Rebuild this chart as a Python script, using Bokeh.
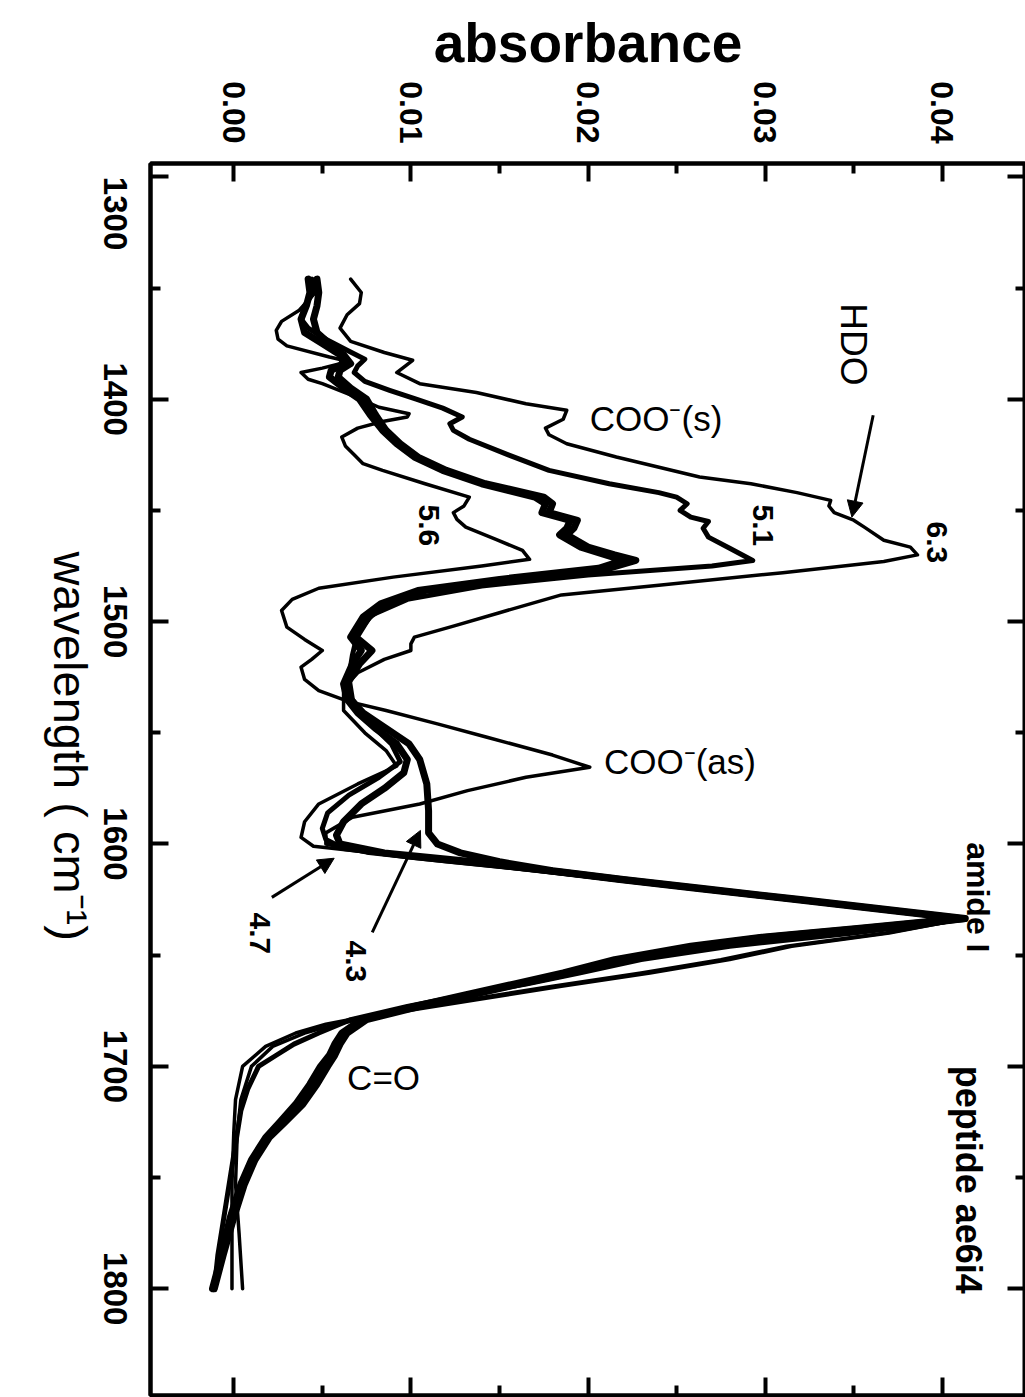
import math
from bokeh.plotting import figure
from bokeh.layouts import row
from bokeh.models import (Range1d, LinearAxis, FixedTicker, PrintfTickFormatter,
                          CustomJSTickFormatter, ColumnDataSource, Arrow, NormalHead)
from bokeh.core.properties import value
from bokeh.embed import file_html
from bokeh.resources import INLINE

FONT = "Liberation Sans"

# axis ticks
wn_ticks = [1300, 1400, 1500, 1600, 1700, 1800]
wn_minor = [1350, 1450, 1550, 1650, 1750]
abs_ticks = [0.00, 0.01, 0.02, 0.03, 0.04]
abs_minor = [0.005, 0.015, 0.025, 0.035]
wn_tick_labels = ["1300", "1400", "1500", "1600", "1700", "1800"]
# the first label sits at the frame's top edge, so it runs downward from its tick
wn_label_align = ["left", "center", "center", "center", "center", "center"]

# spectra: wavenumber (cm-1) and absorbance, one pair per pD
wn_63 = [1346, 1352, 1357, 1362, 1368, 1374, 1379, 1382.5, 1385, 1388, 1393, 1397, 1402, 1405,
         1409, 1413, 1416, 1420, 1426, 1435, 1438, 1442, 1445.5, 1448, 1451, 1454.4, 1457.5,
         1463.4, 1466.5, 1470, 1473, 1478, 1483.7, 1488, 1496, 1502, 1507, 1510, 1513, 1517,
         1523, 1530, 1540, 1550, 1558, 1565, 1573, 1582, 1590, 1597, 1601, 1605, 1610, 1615,
         1620, 1625, 1630, 1634, 1640, 1646, 1652, 1658, 1664, 1670, 1676, 1681, 1685, 1691,
         1700, 1715, 1730, 1753, 1775, 1800]
ab_63 = [0.0066, 0.0072, 0.0071, 0.0064, 0.0060, 0.0066, 0.0085, 0.0101, 0.0097, 0.0092, 0.0105,
         0.0137, 0.0165, 0.0188, 0.0186, 0.0176, 0.0178, 0.0188, 0.0216, 0.0263, 0.0292, 0.0318,
         0.0337, 0.0336, 0.0339, 0.0350, 0.0356, 0.0367, 0.0382, 0.0386, 0.0367, 0.0310, 0.0240,
         0.0185, 0.0150, 0.0124, 0.0102, 0.0100, 0.0100, 0.0085, 0.0070, 0.0062, 0.0062, 0.0074,
         0.0086, 0.0092, 0.0070, 0.0048, 0.0040, 0.0038, 0.0045, 0.0090, 0.0150, 0.0205, 0.0260,
         0.0315, 0.0370, 0.0410, 0.0370, 0.0315, 0.0280, 0.0235, 0.0185, 0.0137, 0.0090, 0.0058,
         0.0040, 0.0022, 0.0010, 0.0004, 0.0002, 0.0001, 0.0003, 0.0005]

wn_56 = [1346, 1352, 1360, 1365, 1369, 1373, 1376, 1381, 1383, 1386, 1388, 1391, 1393, 1398,
         1403.6, 1406.5, 1408, 1410, 1413, 1417, 1421, 1425, 1429, 1432, 1438, 1444, 1448, 1451,
         1454, 1457.5, 1463, 1468, 1472, 1475, 1480, 1485, 1490, 1495, 1502.5, 1508, 1513, 1517,
         1520.5, 1526, 1531, 1536, 1540, 1546, 1552, 1560, 1565.5, 1570, 1576, 1582, 1588, 1595,
         1600, 1604, 1608, 1612, 1616, 1620, 1625, 1630, 1634, 1640, 1646, 1652, 1658, 1664,
         1670, 1676, 1681, 1685, 1691, 1700, 1715, 1730, 1753, 1775, 1800]
ab_56 = [0.0045, 0.0046, 0.0037, 0.0027, 0.0024, 0.0025, 0.0030, 0.0054, 0.0065, 0.0050, 0.0038,
         0.0042, 0.0050, 0.0066, 0.0082, 0.0099, 0.0098, 0.0084, 0.0070, 0.0061, 0.0063, 0.0068,
         0.0073, 0.0084, 0.0108, 0.0133, 0.0130, 0.0124, 0.0126, 0.0131, 0.0148, 0.0163, 0.0167,
         0.0140, 0.0090, 0.0048, 0.0033, 0.0027, 0.0030, 0.0040, 0.0050, 0.0044, 0.0038, 0.0040,
         0.0048, 0.0065, 0.0086, 0.0115, 0.0143, 0.0180, 0.0201, 0.0165, 0.0132, 0.0105, 0.0067,
         0.0052, 0.0052, 0.0075, 0.0120, 0.0170, 0.0213, 0.0258, 0.0312, 0.0368, 0.0411, 0.0368,
         0.0312, 0.0275, 0.0230, 0.0180, 0.0132, 0.0085, 0.0052, 0.0035, 0.0018, 0.0005, 0.0001,
         0.0000, -0.0001, -0.0001, -0.0001]

wn_51 = [1346, 1352, 1358, 1364, 1368, 1373, 1378, 1382, 1385, 1388, 1392, 1396, 1400, 1404,
         1408, 1411, 1414, 1418, 1425, 1432, 1438, 1442, 1444, 1447, 1450, 1453, 1455, 1458, 1462,
         1467, 1472.5, 1475, 1479, 1484, 1490, 1497, 1505, 1515, 1525, 1535, 1545, 1555, 1563,
         1570, 1578, 1586, 1593, 1598, 1602, 1606, 1610, 1615, 1620, 1625, 1630, 1634, 1640,
         1646, 1652, 1658, 1663, 1668, 1673, 1679, 1685, 1690, 1695, 1700, 1710, 1720, 1735,
         1750, 1770, 1785, 1800]
ab_51 = [0.0044, 0.0045, 0.0040, 0.0038, 0.0042, 0.0052, 0.0064, 0.0074, 0.0070, 0.0068, 0.0074,
         0.0088, 0.0103, 0.0118, 0.0129, 0.0122, 0.0124, 0.0133, 0.0155, 0.0178, 0.0212, 0.0240,
         0.0250, 0.0256, 0.0252, 0.0258, 0.0268, 0.0265, 0.0268, 0.0280, 0.0293, 0.0270, 0.0200,
         0.0140, 0.0098, 0.0078, 0.0070, 0.0067, 0.0065, 0.0067, 0.0076, 0.0089, 0.0094, 0.0082,
         0.0065, 0.0053, 0.0050, 0.0052, 0.0062, 0.0100, 0.0150, 0.0205, 0.0260, 0.0315, 0.0370,
         0.0413, 0.0350, 0.0280, 0.0230, 0.0195, 0.0165, 0.0130, 0.0098, 0.0066, 0.0048, 0.0034,
         0.0024, 0.0014, 0.0008, 0.0004, 0.0001, -0.0002, -0.0006, -0.0009, -0.0011]

wn_47 = [1346, 1352, 1358, 1364, 1370, 1375, 1380, 1384, 1387, 1390, 1395, 1400, 1407, 1414,
         1420, 1426, 1432, 1438, 1444, 1447, 1451, 1454.5, 1458, 1461, 1466.5, 1470, 1472.5, 1476,
         1481, 1486, 1492, 1498, 1507, 1513, 1519, 1528, 1535, 1541, 1548, 1555, 1562, 1568,
         1575, 1582, 1590, 1596, 1600, 1604, 1608, 1612, 1616, 1620, 1625, 1630, 1633.5, 1638,
         1642, 1646, 1652, 1658, 1663, 1668, 1673, 1679, 1685, 1690, 1695, 1700, 1708, 1717,
         1725, 1732, 1742, 1753, 1768, 1785, 1800]
ab_47 = [0.0042, 0.0043, 0.0041, 0.0038, 0.0040, 0.0050, 0.0060, 0.0062, 0.0055, 0.0054, 0.0062,
         0.0071, 0.0077, 0.0084, 0.0092, 0.0102, 0.0118, 0.0140, 0.0170, 0.0176, 0.0174, 0.0190,
         0.0188, 0.0184, 0.0196, 0.0210, 0.0220, 0.0206, 0.0150, 0.0104, 0.0083, 0.0073, 0.0066,
         0.0072, 0.0067, 0.0062, 0.0064, 0.0070, 0.0080, 0.0092, 0.0098, 0.0096, 0.0085, 0.0072,
         0.0062, 0.0058, 0.0060, 0.0085, 0.0135, 0.0178, 0.0218, 0.0262, 0.0317, 0.0372, 0.0410,
         0.0352, 0.0297, 0.0258, 0.0215, 0.0186, 0.0158, 0.0130, 0.0102, 0.0072, 0.0061, 0.0057,
         0.0054, 0.0049, 0.0043, 0.0035, 0.0026, 0.0018, 0.0010, 0.0004, -0.0002, -0.0007, -0.0012]

wn_43 = [1346, 1352, 1358, 1364, 1370, 1375, 1380, 1384, 1387, 1390, 1395, 1400, 1407, 1414,
         1420, 1426, 1432, 1438, 1444, 1447, 1451, 1454.5, 1458, 1461, 1466.5, 1470, 1472.5, 1476,
         1481, 1486, 1492, 1498, 1507, 1513, 1519, 1528, 1535, 1541, 1548, 1555, 1562, 1573,
         1585, 1595, 1600, 1604, 1608, 1612, 1616, 1620, 1625, 1630, 1633.5, 1638, 1642, 1646,
         1652, 1658, 1663, 1668, 1673, 1679, 1685, 1690, 1695, 1700, 1708, 1717, 1725, 1732,
         1742, 1753, 1768, 1785, 1800]
ab_43 = [0.0047, 0.0048, 0.0047, 0.0045, 0.0047, 0.0054, 0.0062, 0.0066, 0.0060, 0.0059, 0.0066,
         0.0075, 0.0080, 0.0086, 0.0094, 0.0104, 0.0120, 0.0142, 0.0175, 0.0180, 0.0178, 0.0194,
         0.0192, 0.0188, 0.0200, 0.0215, 0.0227, 0.0212, 0.0155, 0.0108, 0.0086, 0.0076, 0.0069,
         0.0078, 0.0071, 0.0064, 0.0066, 0.0073, 0.0086, 0.0099, 0.0105, 0.0109, 0.0110, 0.0110,
         0.0115, 0.0128, 0.0150, 0.0180, 0.0220, 0.0265, 0.0320, 0.0375, 0.0413, 0.0355, 0.0300,
         0.0262, 0.0218, 0.0190, 0.0161, 0.0133, 0.0105, 0.0075, 0.0064, 0.0060, 0.0057, 0.0053,
         0.0047, 0.0039, 0.0029, 0.0020, 0.0012, 0.0006, 0.0000, -0.0006, -0.0011]

# band and sample labels (absorbance, wavenumber)
rot_text = ["HDO", "6.3", "5.1", "5.6", "4.7", "4.3", "amide I", "peptide ae6i4"]
rot_x = [0.0350, 0.0397, 0.0299, 0.0110, 0.0015, 0.0069, 0.0420, 0.0415]
rot_y = [1375.3, 1464.4, 1456.7, 1456.7, 1640.2, 1652.8, 1624.0, 1751.0]
rot_size = ["37px", "30px", "30px", "30px", "30px", "30px", "32px", "36px"]
rot_style = ["normal", "bold", "bold", "bold", "bold", "bold", "bold", "bold"]

flat_text = ["COO\u207b(s)", "COO\u207b(as)", "C=O"]
flat_x = [0.0201, 0.0209, 0.0064]
flat_y = [1408.5, 1562.8, 1705.0]

# arrows: start (absorbance, wavenumber) -> end
arrow_x0 = [0.0361, 0.00215, 0.00782]
arrow_y0 = [1407.2, 1624.0, 1639.7]
arrow_x1 = [0.0349, 0.00567, 0.01054]
arrow_y1 = [1453.0, 1606.4, 1593.9]

H = 1397
TOP = 163
BOTTOM = 2
wn_range = Range1d(1848, 1294)

# main plot
p = figure(width=877, height=H, output_backend="svg", toolbar_location=None,
           x_range=Range1d(-0.0047, 0.0447), y_range=wn_range,
           x_axis_location="above",
           min_border_left=2, min_border_top=TOP, min_border_right=0, min_border_bottom=BOTTOM)
p.grid.visible = False
p.background_fill_color = "white"
p.border_fill_color = "white"
p.outline_line_color = "black"
p.outline_line_width = 4

blank = CustomJSTickFormatter(code="return ''")

def style_axis(ax, ticker, show_labels):
    ax.ticker = ticker
    ax.axis_line_width = 4
    ax.axis_line_color = "black"
    ax.major_tick_in = 18
    ax.major_tick_out = 0
    ax.minor_tick_in = 10
    ax.minor_tick_out = 0
    ax.major_tick_line_width = 4
    ax.minor_tick_line_width = 4
    ax.major_tick_line_color = "black"
    ax.minor_tick_line_color = "black"
    if show_labels:
        ax.major_label_text_font = FONT
        ax.major_label_text_font_style = "bold"
        ax.major_label_text_font_size = "32px"
        ax.major_label_text_color = "black"
        ax.major_label_orientation = -math.pi / 2
    else:
        ax.formatter = blank
        ax.major_label_standoff = 0

top = p.xaxis[0]
style_axis(top, FixedTicker(ticks=abs_ticks, minor_ticks=abs_minor), True)
top.formatter = PrintfTickFormatter(format="%.2f")
top.major_label_standoff = 20
top.axis_label = "absorbance"
top.axis_label_text_font = FONT
top.axis_label_text_font_style = "bold"
top.axis_label_text_font_size = "55px"
top.axis_label_text_color = "black"
top.axis_label_standoff = 4

left = p.yaxis[0]
style_axis(left, FixedTicker(ticks=wn_ticks, minor_ticks=wn_minor), False)

bottom = LinearAxis()
style_axis(bottom, FixedTicker(ticks=abs_ticks, minor_ticks=abs_minor), False)
p.add_layout(bottom, "below")
right = LinearAxis()
style_axis(right, FixedTicker(ticks=wn_ticks, minor_ticks=wn_minor), False)
p.add_layout(right, "right")

series = [
    (wn_63, ab_63, 3.5),
    (wn_56, ab_56, 3.5),
    (wn_51, ab_51, 5.0),
    (wn_47, ab_47, 7.0),
    (wn_43, ab_43, 7.0),
]
for wn, ab, lw in series:
    p.line(x=ab, y=wn, line_color="black", line_width=lw,
           line_cap="round", line_join="round")

rot_src = ColumnDataSource(dict(x=rot_x, y=rot_y, text=rot_text, size=rot_size, style=rot_style))
p.text(x="x", y="y", text="text", source=rot_src, angle=-math.pi / 2,
       text_font=value(FONT), text_font_size="size", text_font_style="style",
       text_align="center", text_baseline="middle", text_color="black")

flat_src = ColumnDataSource(dict(x=flat_x, y=flat_y, text=flat_text))
p.text(x="x", y="y", text="text", source=flat_src,
       text_font=value(FONT), text_font_size="35px",
       text_align="left", text_baseline="middle", text_color="black")

for xs, ys, xe, ye in zip(arrow_x0, arrow_y0, arrow_x1, arrow_y1):
    p.add_layout(Arrow(end=NormalHead(size=16, fill_color="black", line_color="black"),
                       x_start=xs, y_start=ys, x_end=xe, y_end=ye,
                       line_width=3, line_color="black"))

# left margin strip: wavenumber tick labels and axis title, sharing the wavenumber scale
strip = figure(width=148, height=H, output_backend="svg", toolbar_location=None,
               x_range=Range1d(0, 148), y_range=wn_range,
               x_axis_location=None, y_axis_location=None,
               min_border_left=0, min_border_right=0, min_border_top=TOP, min_border_bottom=BOTTOM)
strip.grid.visible = False
strip.outline_line_color = None
strip.background_fill_color = "white"
strip.border_fill_color = "white"

tick_src = ColumnDataSource(dict(x=[115] * len(wn_ticks), y=wn_ticks, text=wn_tick_labels,
                                 align=wn_label_align))
strip.text(x="x", y="y", text="text", source=tick_src, angle=-math.pi / 2,
           text_font=value(FONT), text_font_size="33px", text_font_style="bold",
           text_align="align", text_baseline="middle", text_color="black")
strip.text(x=[70], y=[1556], text=["wavelength ( cm\u207b\u00b9)"], angle=-math.pi / 2,
           text_font=value(FONT), text_font_size="47px",
           text_align="center", text_baseline="middle", text_color="black")

layout = row(strip, p, spacing=0)
open("out.html", "w").write(file_html(layout, INLINE))
